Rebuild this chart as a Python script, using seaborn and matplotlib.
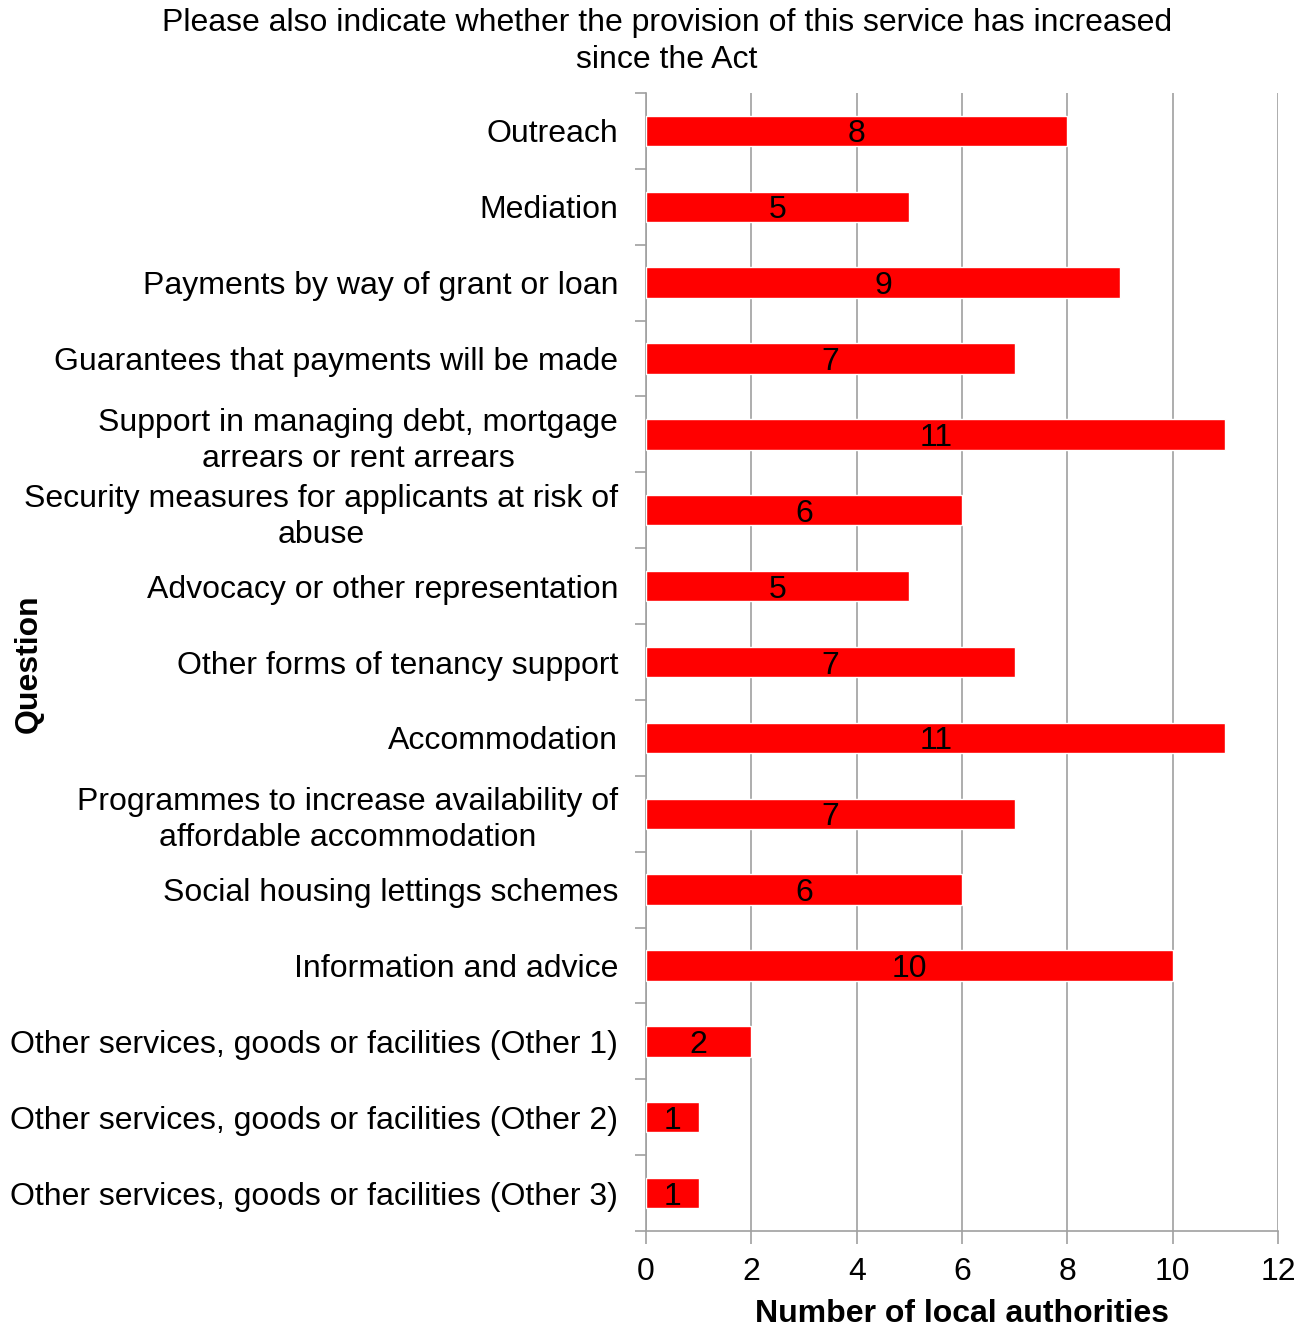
import matplotlib
matplotlib.use("Agg")
import matplotlib.pyplot as plt
import seaborn as sns
import pandas as pd
import numpy as np

questions = [
    "Outreach",
    "Mediation",
    "Payments by way of grant or loan",
    "Guarantees that payments will be made",
    "Support in managing debt, mortgage\narrears or rent arrears",
    "Security measures for applicants at risk of\nabuse",
    "Advocacy or other representation",
    "Other forms of tenancy support",
    "Accommodation",
    "Programmes to increase availability of\naffordable accommodation",
    "Social housing lettings schemes",
    "Information and advice",
    "Other services, goods or facilities (Other 1)",
    "Other services, goods or facilities (Other 2)",
    "Other services, goods or facilities (Other 3)",
]
counts = [8, 5, 9, 7, 11, 6, 5, 7, 11, 7, 6, 10, 2, 1, 1]
x_ticks = [0, 2, 4, 6, 8, 10, 12]

sns.set_theme(style="white")
plt.rcParams["font.family"] = ["Liberation Sans", "DejaVu Sans"]
plt.rcParams["text.color"] = "black"
plt.rcParams["xtick.color"] = "black"
plt.rcParams["ytick.color"] = "black"
plt.rcParams["axes.labelcolor"] = "black"

FS = 23
df = pd.DataFrame({"Question": questions, "Count": counts})

fig = plt.figure(figsize=(13.08, 13.28), dpi=100)
ax = fig.add_axes([0.4939, 0.073, 0.4832, 0.857])

sns.barplot(data=df, y="Question", x="Count", orient="h", color="#ff0000",
            saturation=1, width=0.4, ax=ax, zorder=3)

# value labels centred inside each bar
for i, v in enumerate(counts):
    ax.text(v / 2, i, str(v), ha="center", va="center_baseline", fontsize=FS,
            color="black", zorder=4)

ax.set_xlim(0, 12)
ax.set_ylim(len(questions) - 0.5, -0.5)
ax.set_xticks(x_ticks)
ax.set_xticklabels([str(t) for t in x_ticks], fontsize=FS)
ax.tick_params(axis="y", which="major", length=0, labelsize=FS, pad=20)
ax.set_yticks(np.arange(len(questions) + 1) - 0.5, minor=True)
ax.tick_params(axis="y", which="minor", length=8, color="#a0a0a0", width=1.2,
               direction="out", left=True)
ax.tick_params(axis="x", which="major", length=9, color="#a0a0a0", width=1.2,
               direction="out", bottom=True, pad=10)
for lbl in ax.get_yticklabels():
    lbl.set_horizontalalignment("right")
    lbl.set_multialignment("center")
    lbl.set_linespacing(1.25)

ax.xaxis.grid(True, color="#a0a0a0", linewidth=1.2, zorder=0)
ax.set_axisbelow(True)
for side in ["top", "right"]:
    ax.spines[side].set_visible(False)
for side in ["left", "bottom"]:
    ax.spines[side].set_color("#a0a0a0")
    ax.spines[side].set_linewidth(1.2)

ax.set_xlabel("Number of local authorities", fontsize=FS, fontweight="bold",
              labelpad=8)
ax.set_ylabel("")
fig.text(0.022, 0.5, "Question", rotation=90, ha="center", va="center",
         fontsize=FS, fontweight="bold")

fig.text(0.51, 0.994, "Please also indicate whether the provision of this service has increased\nsince the Act",
         ha="center", va="top", fontsize=FS, linespacing=1.3)

fig.savefig("out.png", dpi=100, facecolor="white")
